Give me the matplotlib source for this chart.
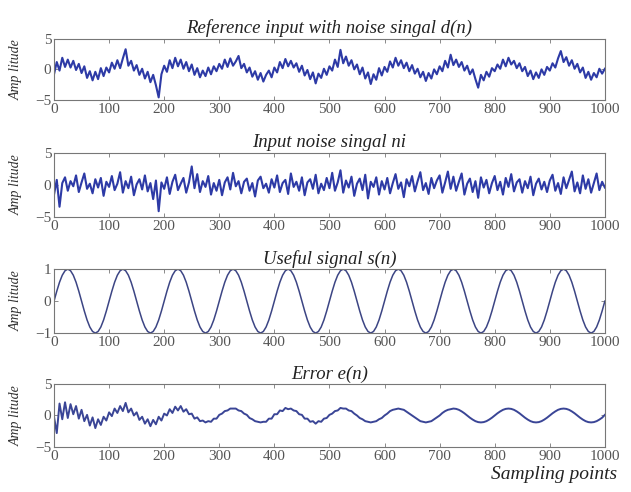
#!/usr/bin/env python3
'''
Adaptive noise cancellation: reference input, noise, useful signal and error.
'''
import numpy as np
import matplotlib.pyplot as plt

# sample index, one reading every 5 sampling points
n = np.arange(0, 1001, 5)

# reference input with noise d(n)
d_n = [
    -0.8, 1.2, -0.2, 1.9, 0.4, 1.6, 0.3, 1.4, -0.1, 0.9, -0.6, 0.5, -1.4, -0.3, -1.8, -0.4, -1.6, 0.2, -1.1, 0.3,
    -0.5, 1.1, 0.1, 1.5, 0.2, 1.8, 3.3, 0.6, 1.4, -0.2, 0.7, -0.9, 0.1, -1.5, -0.4, -2.1, -0.9, -2.6, -4.6, -0.8,
    0.6, -0.4, 1.5, 0.2, 1.9, 0.5, 1.6, 0.1, 1.2, -0.3, 0.8, -0.9, 0.2, -1.3, -0.2, -1.1, 0.3, -0.8, 0.5, -0.3,
    0.9, 0.1, 1.6, 0.4, 1.8, 0.6, 1.3, 2.2, 0.2, 0.9, -0.5, 0.3, -1.2, -0.3, -1.7, -0.6, -2.0, -0.9, -0.2, -1.3,
    0.3, -0.5, 1.2, 0.2, 1.7, 0.5, 1.4, 0.3, 1.0, -0.4, 0.6, -1.0, -0.1, -1.6, -0.5, -2.3, -0.7, -1.4, 0.1, -0.9,
    0.5, -0.2, 1.6, 0.4, 3.2, 1.0, 2.1, 0.6, 1.5, 0.0, 0.8, -0.8, 0.3, -1.5, -0.5, -2.4, -0.8, -1.7, 0.2, -1.0,
    0.4, -0.4, 1.3, 0.3, 1.9, 0.6, 1.5, 0.2, 1.1, -0.3, 0.7, -0.7, 0.1, -1.3, -0.4, -1.9, -0.6, -1.5, 0.0, -0.8,
    0.5, -0.3, 1.4, 0.3, 2.4, 0.7, 1.6, 0.4, 1.2, -0.2, 0.6, -0.8, 0.0, -1.6, -3.0, -0.9, -1.8, -0.4, -1.2, 0.2,
    -0.3, 0.8, 0.1, 1.6, 0.5, 1.9, 0.8, 1.4, 0.2, 1.0, -0.3, 0.4, -1.1, -0.2, -1.6, -0.5, -1.4, 0.0, -0.9, 0.4,
    -0.2, 1.0, 0.3, 1.8, 3.0, 1.2, 2.0, 0.6, 1.5, 0.1, 0.9, -0.5, 0.3, -1.4, -0.4, -1.7, -0.6, -1.3, 0.1, -0.7,
    0.1,
]

# input noise ni
noise_n = [
    -1.5, 0.8, -3.4, 0.3, 1.2, -0.9, 0.6, -0.2, 1.5, -1.1, 0.4, 1.8, -0.6, 0.2, -1.3, 0.9, -0.4, 1.1, -1.7, 0.5,
    -0.3, 1.4, -0.8, 0.2, 2.0, -1.2, 0.6, -0.5, 1.3, -1.6, 0.1, 0.9, -0.7, 1.5, -1.0, 0.3, -2.2, 0.7, -4.1, 0.4,
    -0.6, 1.2, -1.4, 0.5, 1.6, -0.8, 0.2, 1.1, -1.2, 0.4, 2.9, -0.5, 1.7, -1.1, 0.6, -0.3, 1.4, -1.5, 0.3, -0.9,
    0.8, -1.6, 0.4, 1.2, -0.7, 1.9, -0.2, 0.6, -1.3, 0.5, 1.0, -0.9, 0.3, -1.8, 0.7, 1.3, -0.5, 0.2, -1.2, 0.9,
    -0.4, 1.5, -1.1, 0.3, 0.8, -1.4, 1.8, -0.3, 0.5, -0.9, 1.2, -1.6, 0.4, 0.9, -0.6, 1.6, -1.3, 0.2, -0.8, 1.1,
    -0.5, 1.9, -0.9, 0.4, 2.3, -1.2, 0.7, -0.4, 1.3, -1.7, 0.2, 1.0, -0.8, 1.6, -2.1, 0.5, -0.3, 1.2, -1.5, 0.6,
    -0.7, 1.1, -1.3, 0.3, 1.7, -0.6, 0.4, -1.9, 0.9, -0.2, 1.4, -1.0, 0.6, 2.0, -0.8, 0.3, -1.4, 1.1, -0.5, 0.7,
    1.5, -1.2, 0.4, 2.1, -0.6, 1.3, -0.9, 0.5, 1.8, -1.5, 0.2, 1.0, -1.1, 0.6, -2.0, 1.2, -0.4, 0.8, -1.3, 0.3,
    1.4, -0.8, 0.5, -1.5, 1.1, -0.3, 1.7, -1.0, 0.4, 0.9, -1.2, 0.6, -0.5, 1.3, -1.6, 0.2, 1.0, -0.7, 0.5, -1.1,
    0.7, 1.6, -0.9, 0.3, -1.4, 1.2, -0.5, 0.8, 2.1, -1.0, 0.4, -1.3, 1.5, -0.6, 0.9, -1.2, 0.3, 1.8, -0.8, 0.5,
    -0.4,
]

# useful signal s(n), period of 100 sampling points
s_n = [
    0.0, 0.31, 0.59, 0.81, 0.95, 1.0, 0.95, 0.81, 0.59, 0.31, 0.0, -0.31, -0.59, -0.81, -0.95, -1.0, -0.95, -0.81, -0.59, -0.31,
    0.0, 0.31, 0.59, 0.81, 0.95, 1.0, 0.95, 0.81, 0.59, 0.31, 0.0, -0.31, -0.59, -0.81, -0.95, -1.0, -0.95, -0.81, -0.59, -0.31,
    0.0, 0.31, 0.59, 0.81, 0.95, 1.0, 0.95, 0.81, 0.59, 0.31, 0.0, -0.31, -0.59, -0.81, -0.95, -1.0, -0.95, -0.81, -0.59, -0.31,
    0.0, 0.31, 0.59, 0.81, 0.95, 1.0, 0.95, 0.81, 0.59, 0.31, 0.0, -0.31, -0.59, -0.81, -0.95, -1.0, -0.95, -0.81, -0.59, -0.31,
    0.0, 0.31, 0.59, 0.81, 0.95, 1.0, 0.95, 0.81, 0.59, 0.31, 0.0, -0.31, -0.59, -0.81, -0.95, -1.0, -0.95, -0.81, -0.59, -0.31,
    0.0, 0.31, 0.59, 0.81, 0.95, 1.0, 0.95, 0.81, 0.59, 0.31, 0.0, -0.31, -0.59, -0.81, -0.95, -1.0, -0.95, -0.81, -0.59, -0.31,
    0.0, 0.31, 0.59, 0.81, 0.95, 1.0, 0.95, 0.81, 0.59, 0.31, 0.0, -0.31, -0.59, -0.81, -0.95, -1.0, -0.95, -0.81, -0.59, -0.31,
    0.0, 0.31, 0.59, 0.81, 0.95, 1.0, 0.95, 0.81, 0.59, 0.31, 0.0, -0.31, -0.59, -0.81, -0.95, -1.0, -0.95, -0.81, -0.59, -0.31,
    0.0, 0.31, 0.59, 0.81, 0.95, 1.0, 0.95, 0.81, 0.59, 0.31, 0.0, -0.31, -0.59, -0.81, -0.95, -1.0, -0.95, -0.81, -0.59, -0.31,
    0.0, 0.31, 0.59, 0.81, 0.95, 1.0, 0.95, 0.81, 0.59, 0.31, 0.0, -0.31, -0.59, -0.81, -0.95, -1.0, -0.95, -0.81, -0.59, -0.31,
    0.0,
]

# error e(n), noisy at first then settling on s(n)
e_n = [
    -0.2, -2.8, 1.9, -0.6, 2.1, -0.4, 1.8, 0.2, 1.5, -0.5, 0.9, -0.9, 0.1, -1.6, -0.3, -2.0, -0.6, -1.5, -0.2, -0.8,
    0.5, -0.1, 1.1, 0.4, 1.5, 0.7, 2.0, 0.5, 1.1, 0.0, 0.5, -0.7, -0.2, -1.3, -0.6, -1.7, -0.7, -1.4, -0.2, -0.8,
    0.3, 0.0, 1.0, 0.4, 1.4, 0.8, 1.5, 0.6, 1.0, 0.2, 0.3, -0.5, -0.3, -0.9, -0.8, -1.1, -0.9, -1.0, -0.5, -0.5,
    0.1, 0.3, 0.7, 0.8, 1.1, 1.1, 1.1, 0.8, 0.7, 0.3, 0.1, -0.4, -0.6, -0.9, -1.0, -1.1, -1.0, -1.0, -0.5, -0.5,
    0.2, 0.2, 0.8, 0.7, 1.2, 1.0, 1.1, 0.8, 0.7, 0.2, 0.1, -0.5, -0.5, -1.0, -0.9, -1.3, -0.9, -1.0, -0.5, -0.4,
    0.1, 0.3, 0.7, 0.8, 1.2, 1.1, 1.1, 0.8, 0.7, 0.3, 0.0, -0.4, -0.6, -0.9, -1.0, -1.1, -1.0, -0.9, -0.6, -0.4,
    0.0, 0.3, 0.7, 0.9, 1.0, 1.1, 1.0, 0.9, 0.6, 0.3, 0.0, -0.3, -0.6, -0.9, -1.0, -1.1, -1.0, -0.9, -0.6, -0.3,
    0.0, 0.4, 0.7, 0.9, 1.0, 1.1, 1.05, 0.9, 0.65, 0.35, 0.0, -0.35, -0.65, -0.9, -1.05, -1.1, -1.05, -0.9, -0.65, -0.35,
    0.0, 0.35, 0.65, 0.9, 1.05, 1.1, 1.05, 0.9, 0.65, 0.35, 0.0, -0.35, -0.65, -0.9, -1.05, -1.1, -1.05, -0.9, -0.65, -0.35,
    0.0, 0.35, 0.65, 0.9, 1.05, 1.1, 1.05, 0.9, 0.65, 0.35, 0.0, -0.35, -0.65, -0.9, -1.05, -1.1, -1.05, -0.9, -0.65, -0.35,
    0.1,
]

titles = ['Reference input with noise singal d(n)', 'Input noise singal ni',
          'Useful signal s(n)', 'Error e(n)']
x_ticks = [0, 100, 200, 300, 400, 500, 600, 700, 800, 900, 1000]

SERIF = ['Liberation Serif', 'DejaVu Serif']
LINE_BLUE = '#2d3aa6'
TICK_GREY = '#555555'


def style_axis(ax, title, yticks, ylim):
    '''MATLAB-like axis: inward ticks on all sides, serif labels.'''
    ax.set_xlim(0, 1000)
    ax.set_ylim(*ylim)
    ax.set_xticks(x_ticks)
    ax.set_yticks(yticks)
    ax.set_yticklabels(['\u2212' + str(abs(t)) if t < 0 else str(t) for t in yticks])
    ax.tick_params(direction='in', top=True, right=True, length=3, width=0.6,
                   colors='#777777', labelcolor=TICK_GREY, labelsize=11, pad=2)
    for lbl in ax.get_xticklabels() + ax.get_yticklabels():
        lbl.set_family(SERIF)
    for sp in ax.spines.values():
        sp.set_color('#777777')
        sp.set_linewidth(0.8)
    ax.set_title(title, family=SERIF, style='italic', fontsize=13.5, color='#222222', pad=4)
    ax.set_ylabel('Amp litude', family=SERIF, style='italic', fontsize=10,
                  color='#333333', labelpad=2)


fig = plt.figure(figsize=(6.31, 4.92), dpi=100)

boxes = [
    [0.0856, 0.797, 0.873, 0.124],
    [0.0856, 0.559, 0.873, 0.130],
    [0.0856, 0.323, 0.873, 0.130],
    [0.0856, 0.0915, 0.873, 0.128],
]
series = [d_n, noise_n, s_n, e_n]
limits = [((-5, 5), [-5, 0, 5]), ((-5, 5), [-5, 0, 5]),
          ((-1, 1), [-1, 0, 1]), ((-5, 5), [-5, 0, 5])]
colors = [LINE_BLUE, LINE_BLUE, '#3c4584', '#3a4596']
widths = [1.5, 1.5, 1.1, 1.4]

for box, y, title, (ylim, yticks), c, lw in zip(boxes, series, titles, limits, colors, widths):
    ax = fig.add_axes(box)
    ax.plot(n, y, color=c, linewidth=lw)
    style_axis(ax, title, yticks, ylim)
    ax.yaxis.set_label_coords(-0.056, 0.5)

fig.text(0.978, 0.018, 'Sampling points', family=SERIF, style='italic',
         fontsize=14, color='#222222', ha='right', va='bottom')

fig.savefig('out.png', dpi=100)
plt.close(fig)
